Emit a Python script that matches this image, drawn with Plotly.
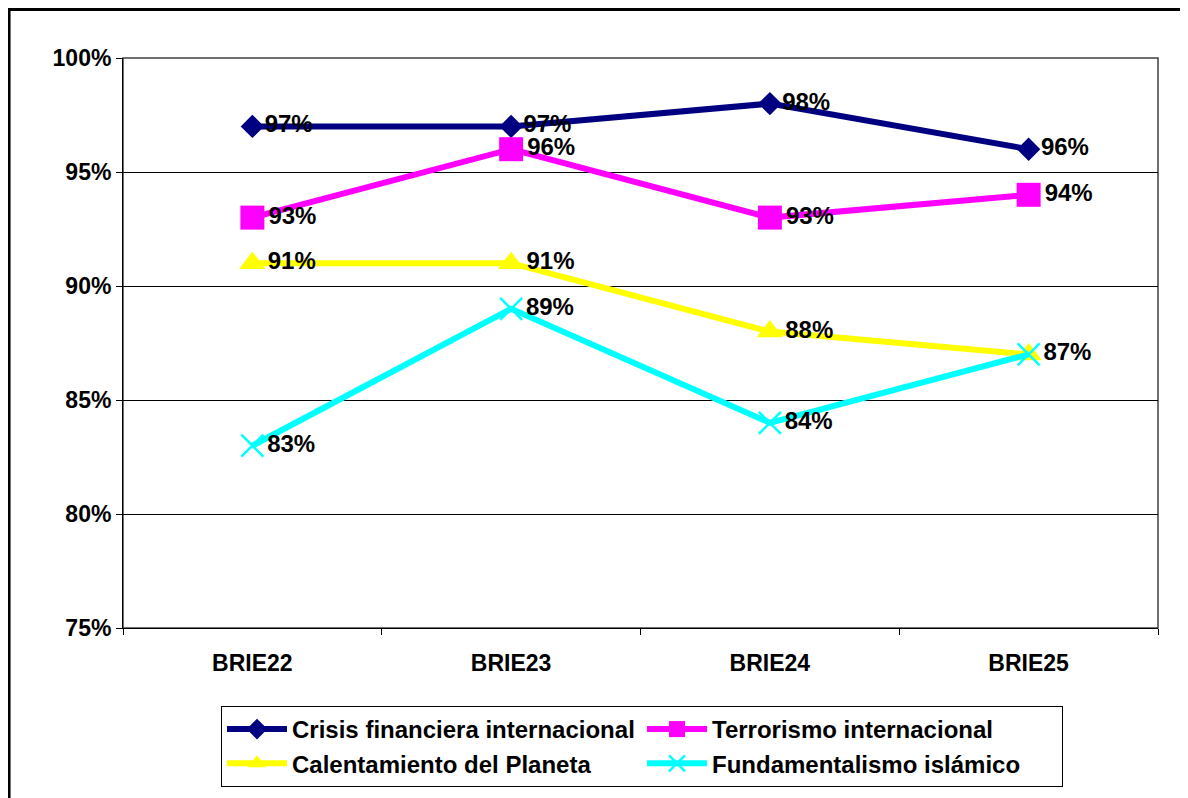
import plotly.graph_objects as go

categories = ["BRIE22", "BRIE23", "BRIE24", "BRIE25"]
crisis = [0.97, 0.97, 0.98, 0.96]
terrorismo = [0.93, 0.96, 0.93, 0.94]
calentamiento = [0.91, 0.91, 0.88, 0.87]
fundamentalismo = [0.83, 0.89, 0.84, 0.87]

series = [
    ("Crisis financiera internacional", crisis, "#000080", "diamond", 18),
    ("Terrorismo internacional", terrorismo, "#FF00FF", "square", 24),
    ("Calentamiento del Planeta", calentamiento, "#FFFF00", "triangle-up", 23),
    ("Fundamentalismo islámico", fundamentalismo, "#00FFFF", "x-thin-open", 22),
]

FONT = "Liberation Sans, Arial, sans-serif"

fig = go.Figure()
for name, vals, color, symbol, size in series:
    marker = dict(symbol=symbol, size=size, color=color)
    if symbol.startswith("x-thin"):
        marker["line"] = dict(color=color, width=2.5)
    labels = [f"{round(v * 100)}%" for v in vals]
    # yellow and cyan share 87% at BRIE25: the reference shows one label there
    if name == "Calentamiento del Planeta":
        labels[-1] = ""
    fig.add_trace(go.Scatter(
        x=categories, y=vals, name=name,
        mode="lines+markers+text",
        line=dict(color=color, width=6),
        marker=marker,
        text=labels,
        textposition="middle right",
        textfont=dict(family=FONT, size=24, color="black", weight="bold"),
        cliponaxis=False,
    ))

# the page adds an 8px body margin, so margins are set 8px short on left/top
fig.update_layout(
    width=1188, height=798,
    margin=dict(l=115, r=38, t=50, b=178),
    paper_bgcolor="white", plot_bgcolor="white",
    font=dict(family=FONT, size=23, color="black", weight="bold"),
    showlegend=True,
    legend=dict(
        orientation="h", x=0.0947, xanchor="left", y=-0.1368, yanchor="top",
        bordercolor="black", borderwidth=1, entrywidth=345, entrywidthmode="pixels",
        font=dict(family=FONT, size=24, color="black", weight="bold"),
        itemwidth=60, tracegroupgap=0,
    ),
    xaxis=dict(
        type="category", range=[-0.5, 3.5], tickson="boundaries",
        ticks="outside", ticklen=6, tickcolor="black",
        showline=True, linecolor="black", linewidth=1, showgrid=False,
        ticklabelstandoff=14, zeroline=False,
        tickfont=dict(family=FONT, size=23, color="black", weight="bold"),
    ),
    yaxis=dict(
        range=[0.75, 1.0], dtick=0.05, tickformat=".0%",
        ticks="outside", ticklen=6, tickcolor="black",
        showline=True, linecolor="black", linewidth=1,
        showgrid=True, gridcolor="black", gridwidth=1, zeroline=False,
        tickfont=dict(family=FONT, size=23, color="black", weight="bold"),
    ),
    shapes=[
        dict(type="rect", xref="paper", yref="paper", x0=0, x1=1, y0=0, y1=1,
             line=dict(color="#404040", width=1.5), layer="below"),
        dict(type="rect", xref="paper", yref="paper", x0=-0.1101, x1=1.05,
             y0=-0.33, y1=1.0851, line=dict(color="black", width=3)),
    ],
)

fig.write_html("out.html")
